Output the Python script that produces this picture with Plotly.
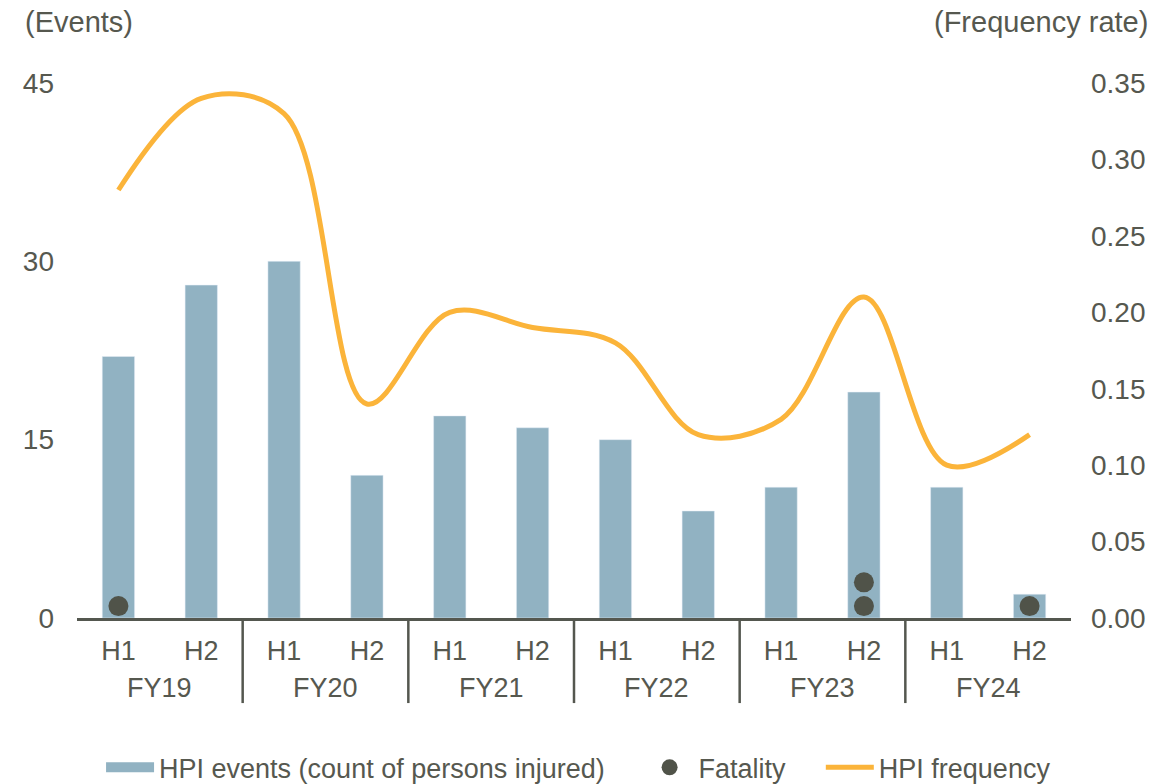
import plotly.graph_objects as go

years = ["FY19", "FY20", "FY21", "FY22", "FY23", "FY24"]
halves = ["H1", "H2"]
hpi_events = [22, 28, 30, 12, 17, 16, 15, 9, 11, 19, 11, 2]
hpi_frequency = [0.28, 0.34, 0.33, 0.14, 0.20, 0.19, 0.18, 0.12, 0.13, 0.21, 0.10, 0.12]
fatalities = [1, 0, 0, 0, 0, 0, 0, 0, 0, 2, 0, 1]

x_year = [y for y in years for h in halves]
x_half = [h for y in years for h in halves]
x_key = [f"{y} {h}" for y, h in zip(x_year, x_half)]
n_cat = len(x_key)
per_year = len(halves)

# fatality dots stacked at 1, 3, ...
fx, fy = [], []
for key, n in zip(x_key, fatalities):
    for i in range(n):
        fx.append(key)
        fy.append(1 + 2 * i)

TXT = "#56584f"
AX = "#54574f"
BAR = "#91b2c2"
LINE = "#fbb43a"
DOT = "#505349"
FONT = "Liberation Sans, Arial, sans-serif"

fig = go.Figure()
fig.add_trace(go.Bar(
    x=x_key, y=hpi_events, marker_color=BAR,
    name="HPI events (count of persons injured)", showlegend=False,
))
fig.add_trace(go.Scatter(
    x=[x_key[0]], y=[None], mode="lines",
    line=dict(color=BAR, width=18), legend="legend",
    name="HPI events (count of persons injured)", showlegend=True,
))
fig.add_trace(go.Scatter(
    x=fx, y=fy, mode="markers", legend="legend2",
    marker=dict(color=DOT, size=20), name="Fatality",
))
fig.add_trace(go.Scatter(
    x=x_key, y=hpi_frequency, mode="lines", yaxis="y2", legend="legend3",
    line=dict(color=LINE, width=5, shape="spline", smoothing=1),
    name="HPI frequency",
))

# group dividers below the axis and fiscal-year labels
shapes = []
annotations = []
for k in range(1, len(years)):
    xp = (per_year * k) / n_cat
    shapes.append(dict(type="line", xref="paper", yref="paper",
                       x0=xp, x1=xp, y0=0, y1=-0.159,
                       line=dict(color=AX, width=2.5)))
for k, yr in enumerate(years):
    annotations.append(dict(text=yr, xref="paper", yref="paper",
                            x=(per_year * k + per_year / 2) / n_cat, y=-0.131,
                            xanchor="center", yanchor="middle", showarrow=False,
                            font=dict(size=27, color=TXT)))
annotations += [
    dict(text="(Events)", xref="paper", yref="paper", x=-0.054, y=1.114,
         xanchor="left", yanchor="middle", showarrow=False,
         font=dict(size=29, color=TXT)),
    dict(text="(Frequency rate)", xref="paper", yref="paper", x=1.079, y=1.114,
         xanchor="right", yanchor="middle", showarrow=False,
         font=dict(size=29, color=TXT)),
]

leg_common = dict(orientation="h", y=-0.28, yanchor="middle", xanchor="left",
                  font=dict(size=27, color=TXT), itemwidth=48,
                  bgcolor="rgba(0,0,0,0)")

fig.update_layout(
    width=1170, height=784,
    margin=dict(l=77, r=99, t=83, b=166, autoexpand=False),
    paper_bgcolor="white", plot_bgcolor="white",
    font=dict(family=FONT, size=27, color=TXT),
    bargap=0.61,
    shapes=shapes,
    annotations=annotations,
    xaxis=dict(
        type="category", range=[-0.5, n_cat - 0.5], showline=True,
        linecolor=AX, linewidth=3, showgrid=False, ticks="",
        tickvals=x_key, ticktext=x_half, automargin=False,
        ticklabelstandoff=7, tickfont=dict(size=27, color=TXT),
    ),
    yaxis=dict(
        range=[0, 45], tickvals=[0, 15, 30, 45], showgrid=False,
        zeroline=False, showline=False, ticklabelstandoff=22, automargin=False,
        tickfont=dict(size=28, color=TXT),
    ),
    yaxis2=dict(
        range=[0, 0.35], dtick=0.05, tickformat=".2f", overlaying="y",
        side="right", showgrid=False, zeroline=False, showline=False,
        ticklabelstandoff=19, automargin=False,
        tickfont=dict(size=28, color=TXT),
    ),
    legend=dict(x=0.0242, **leg_common),
    legend2=dict(x=0.567, **leg_common),
    legend3=dict(x=0.7483, **leg_common),
)

fig.write_html("out.html", config={"displayModeBar": False},
               post_script="document.body.style.margin='0';")
